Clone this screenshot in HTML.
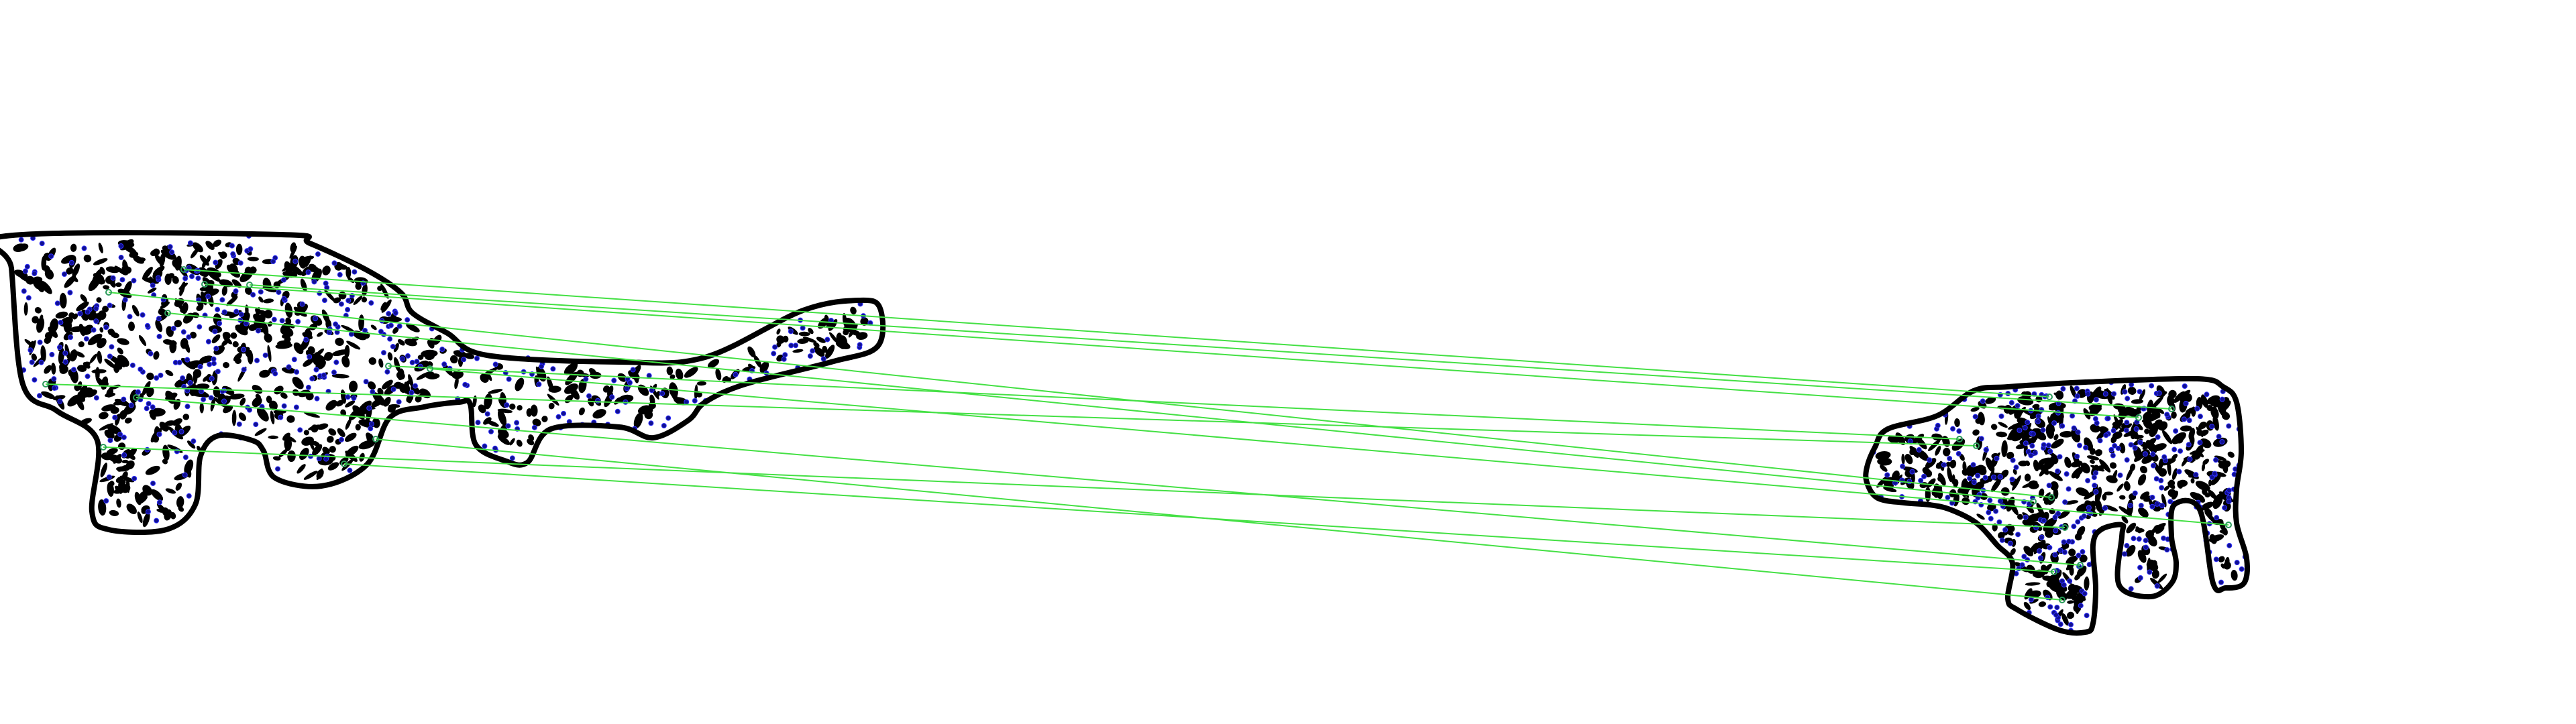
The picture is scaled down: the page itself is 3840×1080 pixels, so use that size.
<!DOCTYPE html>
<html><head><meta charset="utf-8"><style>
html,body{margin:0;padding:0;background:#fff;width:3840px;height:1080px;overflow:hidden;font-family:"Liberation Sans",sans-serif}
</style></head><body>
<svg id="fig" width="3840" height="1080" viewBox="0 0 3840 1080" xmlns="http://www.w3.org/2000/svg">
<g id="spots"></g>
<path id="left-outline" fill="none" stroke="#000" stroke-width="8" stroke-linejoin="round"
d="M9,352 L419,350 L462,363 L547,403 L598,437 L615,467 L667,497 L726,530 L923,540 L1051,533 L1197,463 L1282,448 L1312,460 L1308,517 L1239,540 L1111,573 L1051,600 L1026,627 L974,653 L923,637 L821,640 L786,690 L752,687 L709,663 L701,603 L684,600 L632,607 L581,623 L547,693 L479,725 L410,713 L393,673 L376,657 L325,650 L299,680 L291,753 L248,790 L162,790 L137,763 L145,657 L85,613 L34,573 L17,400 Z"/>
<path id="right-outline" fill="none" stroke="#000" stroke-width="8" stroke-linejoin="round"
d="M2783,697 L2795,667 L2814,640 L2888,620 L2942,583 L2993,577 L3109,570 L3275,565 L3314,577 L3334,600 L3341,673 L3334,730 L3334,780 L3349,833 L3345,870 L3318,877 L3299,870 L3279,760 L3241,753 L3237,800 L3244,840 L3237,870 L3206,890 L3159,873 L3163,800 L3163,783 L3132,790 L3120,813 L3124,877 L3120,930 L3109,943 L3070,940 L3008,910 L2993,893 L3000,840 L2977,813 L2946,780 L2907,760 L2876,753 L2838,750 L2799,743 L2783,720 Z"/>
<g id="matches"></g>
</svg>
<script>
// match data: left keypoints and right keypoints
const leftX=[274,305,372,162,250,579,641,68,203,560,154,513];
const leftY=[402,424,425,436,467,546,550,573,593,655,667,692];
const rightX=[3055,3188,3237,3058,3031,2921,3322,2946,3101,3074,3078,3062];
const rightY=[592,623,610,742,748,655,783,665,843,895,787,853];

const NS="http://www.w3.org/2000/svg";
function poly(id){
  const d=document.getElementById(id).getAttribute('d');
  return d.replace(/[MLZ]/g,' ').trim().split(/\s+/).map(p=>p.split(',').map(Number));
}
function smooth(id){
  const v=poly(id),n=v.length;let d='M'+v[0][0]+','+v[0][1];
  for(let i=0;i<n;i++){const p0=v[(i-1+n)%n],p1=v[i],p2=v[(i+1)%n],p3=v[(i+2)%n];
    const c1=[p1[0]+(p2[0]-p0[0])/6,p1[1]+(p2[1]-p0[1])/6],c2=[p2[0]-(p3[0]-p1[0])/6,p2[1]-(p3[1]-p1[1])/6];
    d+=' C'+c1.join(',')+' '+c2.join(',')+' '+p2.join(',');}
  return d+' Z';
}
function inside(pt,vs){let x=pt[0],y=pt[1],c=false;
  for(let i=0,j=vs.length-1;i<vs.length;j=i++){const xi=vs[i][0],yi=vs[i][1],xj=vs[j][0],yj=vs[j][1];
    if(((yi>y)!=(yj>y))&&(x<(xj-xi)*(y-yi)/(yj-yi)+xi))c=!c;}return c;}
let seed=12345;function rnd(){seed=(seed*1103515245+12345)%2147483648;return seed/2147483648;}
const sg=document.getElementById('spots');
function texture(id,n,m){
  const vs=poly(id);let xs=vs.map(v=>v[0]),ys=vs.map(v=>v[1]);
  const x0=Math.min(...xs),x1=Math.max(...xs),y0=Math.min(...ys),y1=Math.max(...ys);
  let k=0,t=0;
  while(k<n&&t<n*10){t++;const x=x0+rnd()*(x1-x0),y=y0+rnd()*(y1-y0);
    if(!inside([x,y],vs))continue;
    if(!inside([x+12,y],vs)||!inside([x-12,y],vs)||!inside([x,y+12],vs)||!inside([x,y-12],vs))continue;
    k++;
    const e=document.createElementNS(NS,'ellipse');
    
    
    e.setAttribute('cx',x);e.setAttribute('cy',y);
    e.setAttribute('rx',2.5+rnd()*4);e.setAttribute('ry',4+rnd()*9);
    e.setAttribute('transform','rotate('+(rnd()*180)+' '+x+' '+y+')');
    e.setAttribute('fill','#000');sg.appendChild(e);}
  k=0;t=0;
  while(k<m&&t<m*10){t++;const x=x0+rnd()*(x1-x0),y=y0+rnd()*(y1-y0);
    if(!inside([x,y],vs))continue;k++;
    const c=document.createElementNS(NS,'circle');
    
    
    c.setAttribute('cx',x);c.setAttribute('cy',y);c.setAttribute('r',3.5);
    c.setAttribute('fill','#101090');c.setAttribute('stroke','#3030ff');c.setAttribute('stroke-width','1');sg.appendChild(c);}
}
texture('left-outline',750,350);
texture('right-outline',520,300);
['left-outline','right-outline'].forEach(id=>document.getElementById(id).setAttribute('d',smooth(id)));
const mg=document.getElementById('matches');
for(let i=0;i<leftX.length;i++){
  const l=document.createElementNS(NS,'line');
  
  
  l.setAttribute('x1',leftX[i]);l.setAttribute('y1',leftY[i]);
  l.setAttribute('x2',rightX[i]);l.setAttribute('y2',rightY[i]);
  l.setAttribute('stroke','#44e044');l.setAttribute('stroke-width','2');mg.appendChild(l);
  [[leftX[i],leftY[i]],[rightX[i],rightY[i]]].forEach(p=>{
    const c=document.createElementNS(NS,'circle');
    
    
    c.setAttribute('cx',p[0]);c.setAttribute('cy',p[1]);c.setAttribute('r',4);
    c.setAttribute('fill','none');c.setAttribute('stroke','#2a9a5a');c.setAttribute('stroke-width','2');mg.appendChild(c);});
}
</script>
</body></html>
